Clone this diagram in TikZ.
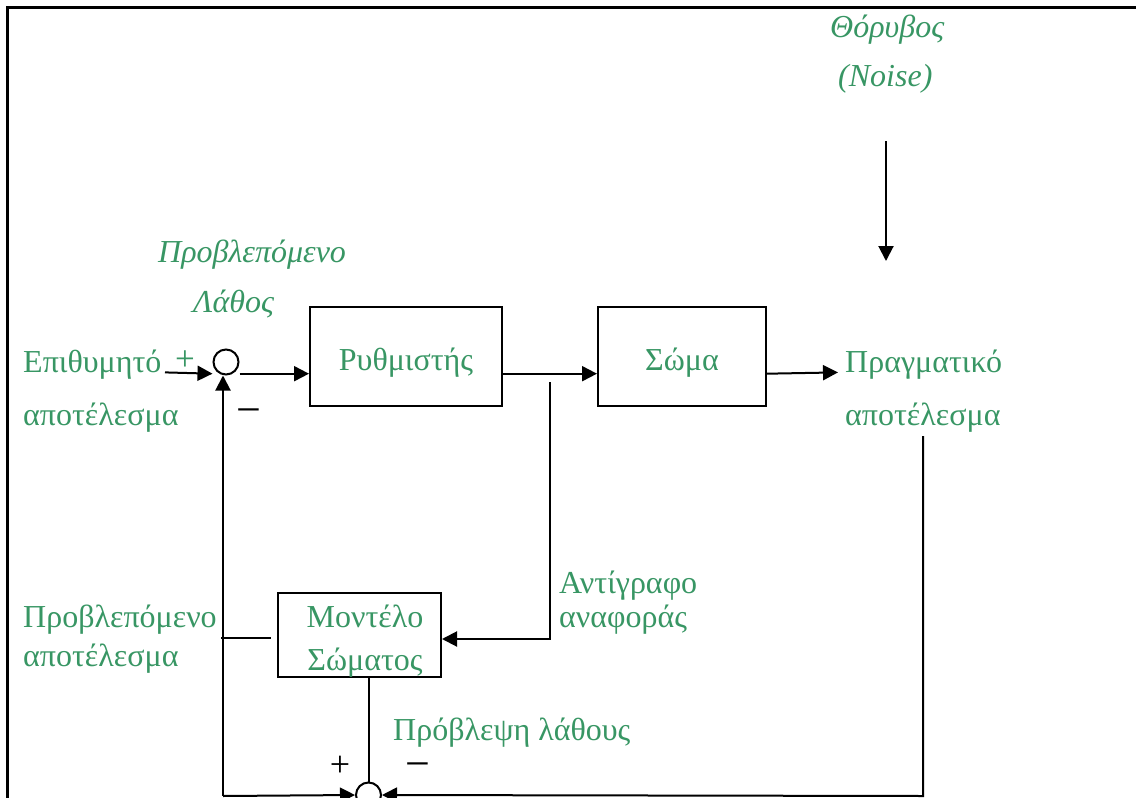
\documentclass[tikz,border=0pt]{standalone}
\usepackage{fontspec}
\setmainfont{Liberation Serif}
\usetikzlibrary{arrows.meta}
\definecolor{grn}{RGB}{56,150,100}
\begin{document}
\begin{tikzpicture}[x=1pt,y=-1pt,
  ln/.style={line width=2pt},
  arr/.style={line width=2pt,-{Triangle[length=15pt,width=15pt]}},
  blk/.style={draw,line width=2pt,text=grn,font=\fontsize{32}{36}\selectfont,text height=27pt,text depth=0pt},
  sumc/.style={draw,circle,line width=2pt,minimum size=25pt,inner sep=0pt},
  lab/.style={text=grn,font=\fontsize{32}{36}\selectfont,inner sep=0pt,anchor=base west},
  clab/.style={text=grn,font=\fontsize{32}{36}\selectfont,inner sep=0pt,anchor=base},
  ilab/.style={text=grn,font=\fontsize{32}{36}\selectfont\itshape,inner sep=0pt,anchor=base west},
  sgn/.style={font=\fontsize{36}{40}\selectfont,inner sep=0pt},
  mns/.style={font=\fontsize{44}{48}\selectfont,inner sep=0pt}]
\useasboundingbox (0,0) rectangle (1136,798);
% frame
\draw[line width=3pt] (7,798) -- (7,7) -- (1136,7);
% blocks
\node[blk,minimum width=192pt,minimum height=99pt] (R) at (406,356.5) {Ρυθμιστής};
\node[blk,minimum width=168pt,minimum height=99pt] (S) at (682,356.5) {Σώμα};
\node[draw,line width=2pt,minimum width=163pt,minimum height=84pt] (M) at (359.5,635) {};
\node[clab] (M1) at (365,627) {Μοντέλο};
\node[clab] (M2) at (365,670) {Σώματος};
% summing points
\node[sumc] (s1) at (226,362) {};
\node[sumc] (s2) at (368.5,795) {};
% coordinates
\coordinate (in) at (165,372.4);
\coordinate (out) at (838,372.4);
\coordinate (b1) at (550,382);
\coordinate (b2) at (550,639);
\coordinate (m1) at (221,638);
\coordinate (m2) at (271,638);
\coordinate (f0) at (223,796);
\coordinate (p1) at (923,436);
\coordinate (p2) at (923,796);
\coordinate (n1) at (886,141);
\coordinate (n2) at (886,261);
% connectors
\draw[arr] (in) -- (s1.west |- s1.-60);
\draw[arr] (s1.east |- s1.-60) -- (R.west |- s1.-60);
\draw[arr] (R.east |- s1.-60) -- (S.west |- s1.-60);
\draw[arr] (S.east |- s1.-60) -- (out);
\draw[arr] (b1) -- (b2) -- (M.east |- b2);
\draw[ln] (m1) -- (m2);
\draw[arr] (f0) -- (f0 |- s1.south);
\draw[arr] (f0) -- (s2.west);
\draw[ln] (s2 |- M.south) -- (s2.north);
\draw[arr] (p1) -- (p2) -- (s2.east);
\draw[arr] (n1) -- (n2);
% labels
\node[ilab] (t1) at (830,37) {Θόρυβος};
\node[ilab] (t2) at (838,86) {(Noise)};
\node[ilab] (t3) at (158,262) {Προβλεπόμενο};
\node[ilab] (t4) at (193,312) {Λάθος};
\node[lab] (t5) at (23,372) {Επιθυμητό};
\node[text=grn,font=\fontsize{35}{40}\selectfont,inner sep=0pt] (t5p) at (185,361) {+};
\node[lab] (t6) at (23,425) {αποτέλεσμα};
\node[mns] (t7) at (249,417) {−};
\node[lab] (t8) at (845,372) {Πραγματικό};
\node[lab] (t9) at (845,425) {αποτέλεσμα};
\node[lab] (t10) at (559,593) {Αντίγραφο};
\node[lab] (t11) at (559,627) {αναφοράς};
\node[lab] (t12) at (23,627) {Προβλεπόμενο};
\node[lab] (t13) at (23,666) {αποτέλεσμα};
\node[lab] (t14) at (393,740) {Πρόβλεψη λάθους};
\node[sgn] (t15) at (340,766) {+};
\node[mns] (t16) at (418,771) {−};
\end{tikzpicture}
\end{document}
